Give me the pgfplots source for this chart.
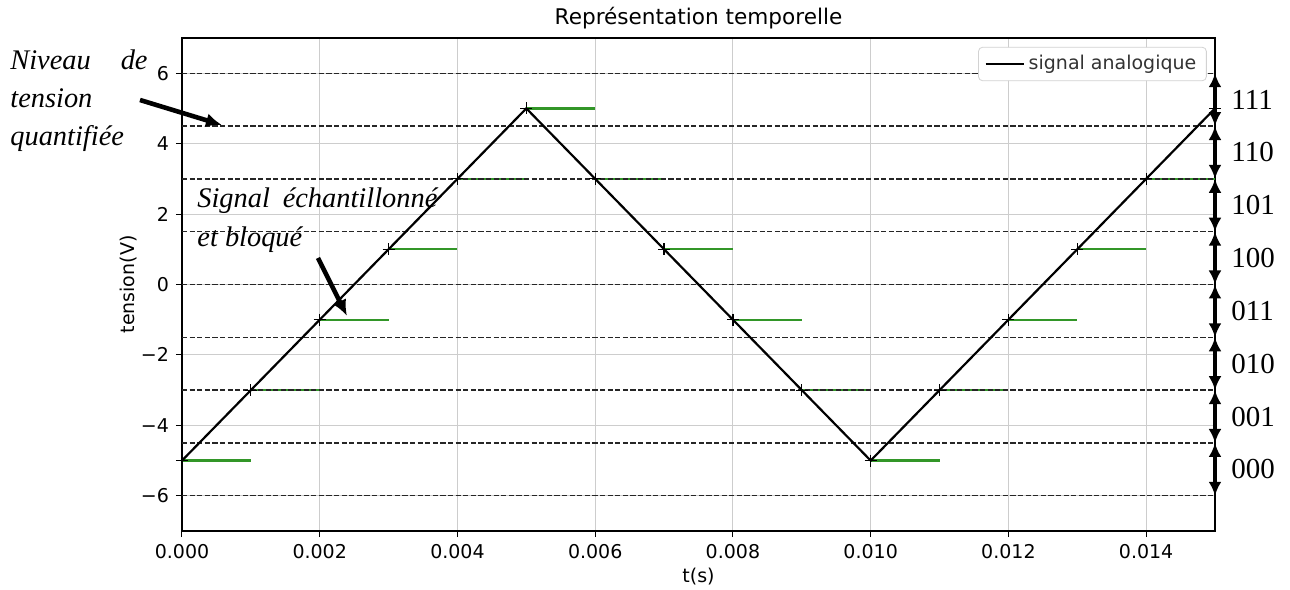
\documentclass[border=0pt]{standalone}
\usepackage{fontspec}
\setmainfont{DejaVu Sans}
\newfontfamily\tnr{Liberation Serif}
\usepackage{pgfplots}
\pgfplotsset{compat=1.18}
\usetikzlibrary{arrows.meta}
\definecolor{mplgreen}{RGB}{50,150,40}
\definecolor{gridgray}{RGB}{205,205,205}
\begin{document}
\begin{tikzpicture}
\path[use as bounding box] (-91pt,-29pt) rectangle (554pt,265.5pt);
\begin{axis}[
  at={(0,0)}, anchor=south west,
  scale only axis, width=516.5pt, height=246.5pt,
  xmin=0, xmax=0.015, ymin=-7, ymax=7,
  xtick={0,0.002,0.004,0.006,0.008,0.010,0.012,0.014},
  xticklabels={0.000,0.002,0.004,0.006,0.008,0.010,0.012,0.014},
  scaled x ticks=false,
  ytick={-6,-4,-2,0,2,4,6},
  yticklabels={−6,−4,−2,0,2,4,6},
  xtick pos=bottom, ytick pos=left,
  tick align=outside, major tick length=3pt,
  tick style={black, line width=0.5pt},
  axis line style={line width=0.6pt},
  grid=major, grid style={gridgray, line width=0.5pt},
  font=\fontsize{9.5}{11}\selectfont,
  every axis title shift=0pt,
  title={Représentation temporelle},
  title style={at={(axis description cs:0.5,1.04)}, anchor=center, font=\fontsize{10.8}{12}\selectfont},
  xlabel={t(s)}, ylabel={tension(V)},
  xlabel style={at={(axis description cs:0.5,-0.093)}, anchor=center},
  ylabel style={at={(axis description cs:-0.052,0.5)}, anchor=center},
  clip=false,
  legend style={at={(rel axis cs:0.992,0.982)}, anchor=north east, draw=gray!35, rounded corners=2pt,
    fill=white, font=\fontsize{9.5}{11}\selectfont, inner xsep=3pt, inner ysep=2pt, text=black!80},
  legend image code/.code={\draw[#1] (0pt,0pt) -- (19pt,0pt);},
]
% sample and hold (green)
\addplot[mplgreen, line width=1.1pt, unbounded coords=jump, forget plot] coordinates {
 (0,-5) (0.001,-5) (nan,nan)
 (0.001,-3) (0.002,-3) (nan,nan)
 (0.002,-1) (0.003,-1) (nan,nan)
 (0.003,1) (0.004,1) (nan,nan)
 (0.004,3) (0.005,3) (nan,nan)
 (0.005,5) (0.006,5) (nan,nan)
 (0.006,3) (0.007,3) (nan,nan)
 (0.007,1) (0.008,1) (nan,nan)
 (0.008,-1) (0.009,-1) (nan,nan)
 (0.009,-3) (0.010,-3) (nan,nan)
 (0.010,-5) (0.011,-5) (nan,nan)
 (0.011,-3) (0.012,-3) (nan,nan)
 (0.012,-1) (0.013,-1) (nan,nan)
 (0.013,1) (0.014,1) (nan,nan)
 (0.014,3) (0.015,3)
};
% quantization levels (dashed)
\addplot[black!85, line width=0.65pt, dash pattern=on 2.6pt off 1.2pt, unbounded coords=jump, forget plot] coordinates {
 (0,-6) (0.015,-6) (nan,nan)
 (0,-4.5) (0.015,-4.5) (nan,nan)
 (0,-3) (0.015,-3) (nan,nan)
 (0,-1.5) (0.015,-1.5) (nan,nan)
 (0,0) (0.015,0) (nan,nan)
 (0,1.5) (0.015,1.5) (nan,nan)
 (0,3) (0.015,3) (nan,nan)
 (0,4.5) (0.015,4.5) (nan,nan)
 (0,6) (0.015,6)
};
% analog signal
\addplot[black, line width=1.1pt] coordinates {
 (0,-5) (0.005,5) (0.010,-5) (0.015,5)
};
\addlegendentry{signal analogique}
% sample points
\addplot[only marks, mark=+, mark size=3pt, black, mark options={line width=0.6pt}, forget plot] coordinates {
 (0,-5) (0.001,-3) (0.002,-1) (0.003,1) (0.004,3) (0.005,5) (0.006,3) (0.007,1)
 (0.008,-1) (0.009,-3) (0.010,-5) (0.011,-3) (0.012,-1) (0.013,1) (0.014,3) (0.015,5)
};
% code arrows on the right
\foreach \a/\b/\c in {6/4.5/111, 4.5/3/110, 3/1.5/101, 1.5/0/100, 0/-1.5/011, -1.5/-3/010, -3/-4.5/001, -4.5/-6/000}{
  \edef\tmp{\noexpand\draw[line width=2pt, {Latex[length=7pt,width=6.5pt]}-{Latex[length=7pt,width=6.5pt]}]
    (axis cs:0.015,\a) -- (axis cs:0.015,\b);
    \noexpand\node[anchor=west, font=\noexpand\tnr\noexpand\fontsize{14.5}{16}\noexpand\selectfont, inner sep=0pt]
    at ([xshift=8pt]axis cs:0.015,{(\a+\b)/2}) {\c};}
  \tmp
}
\end{axis}
\begin{scope}[x=0.5pt, y=-0.5pt, shift={(-91pt,265.5pt)}]
  \begin{scope}[font=\tnr\itshape\fontsize{14.2}{16}\selectfont]
    \node[anchor=base west, inner sep=0pt] at (10,70) {Niveau};
    \node[anchor=base east, inner sep=0pt] at (148,70) {de};
    \node[anchor=base west, inner sep=0pt] at (10,108) {tension};
    \node[anchor=base west, inner sep=0pt] at (10,146) {quantifiée};
    \node[anchor=base west, inner sep=0pt] at (197,208) {Signal\hspace{0.45em}échantillonné};
    \node[anchor=base west, inner sep=0pt] at (197,247) {et bloqué};
  \end{scope}
  \draw[line width=2.3pt, -{Latex[length=8pt,width=7pt]}] (140,100) -- (222,125);
  \draw[line width=2.3pt, -{Latex[length=8pt,width=7pt]}] (318,258) -- (347,316);
\end{scope}
\end{tikzpicture}
\end{document}
